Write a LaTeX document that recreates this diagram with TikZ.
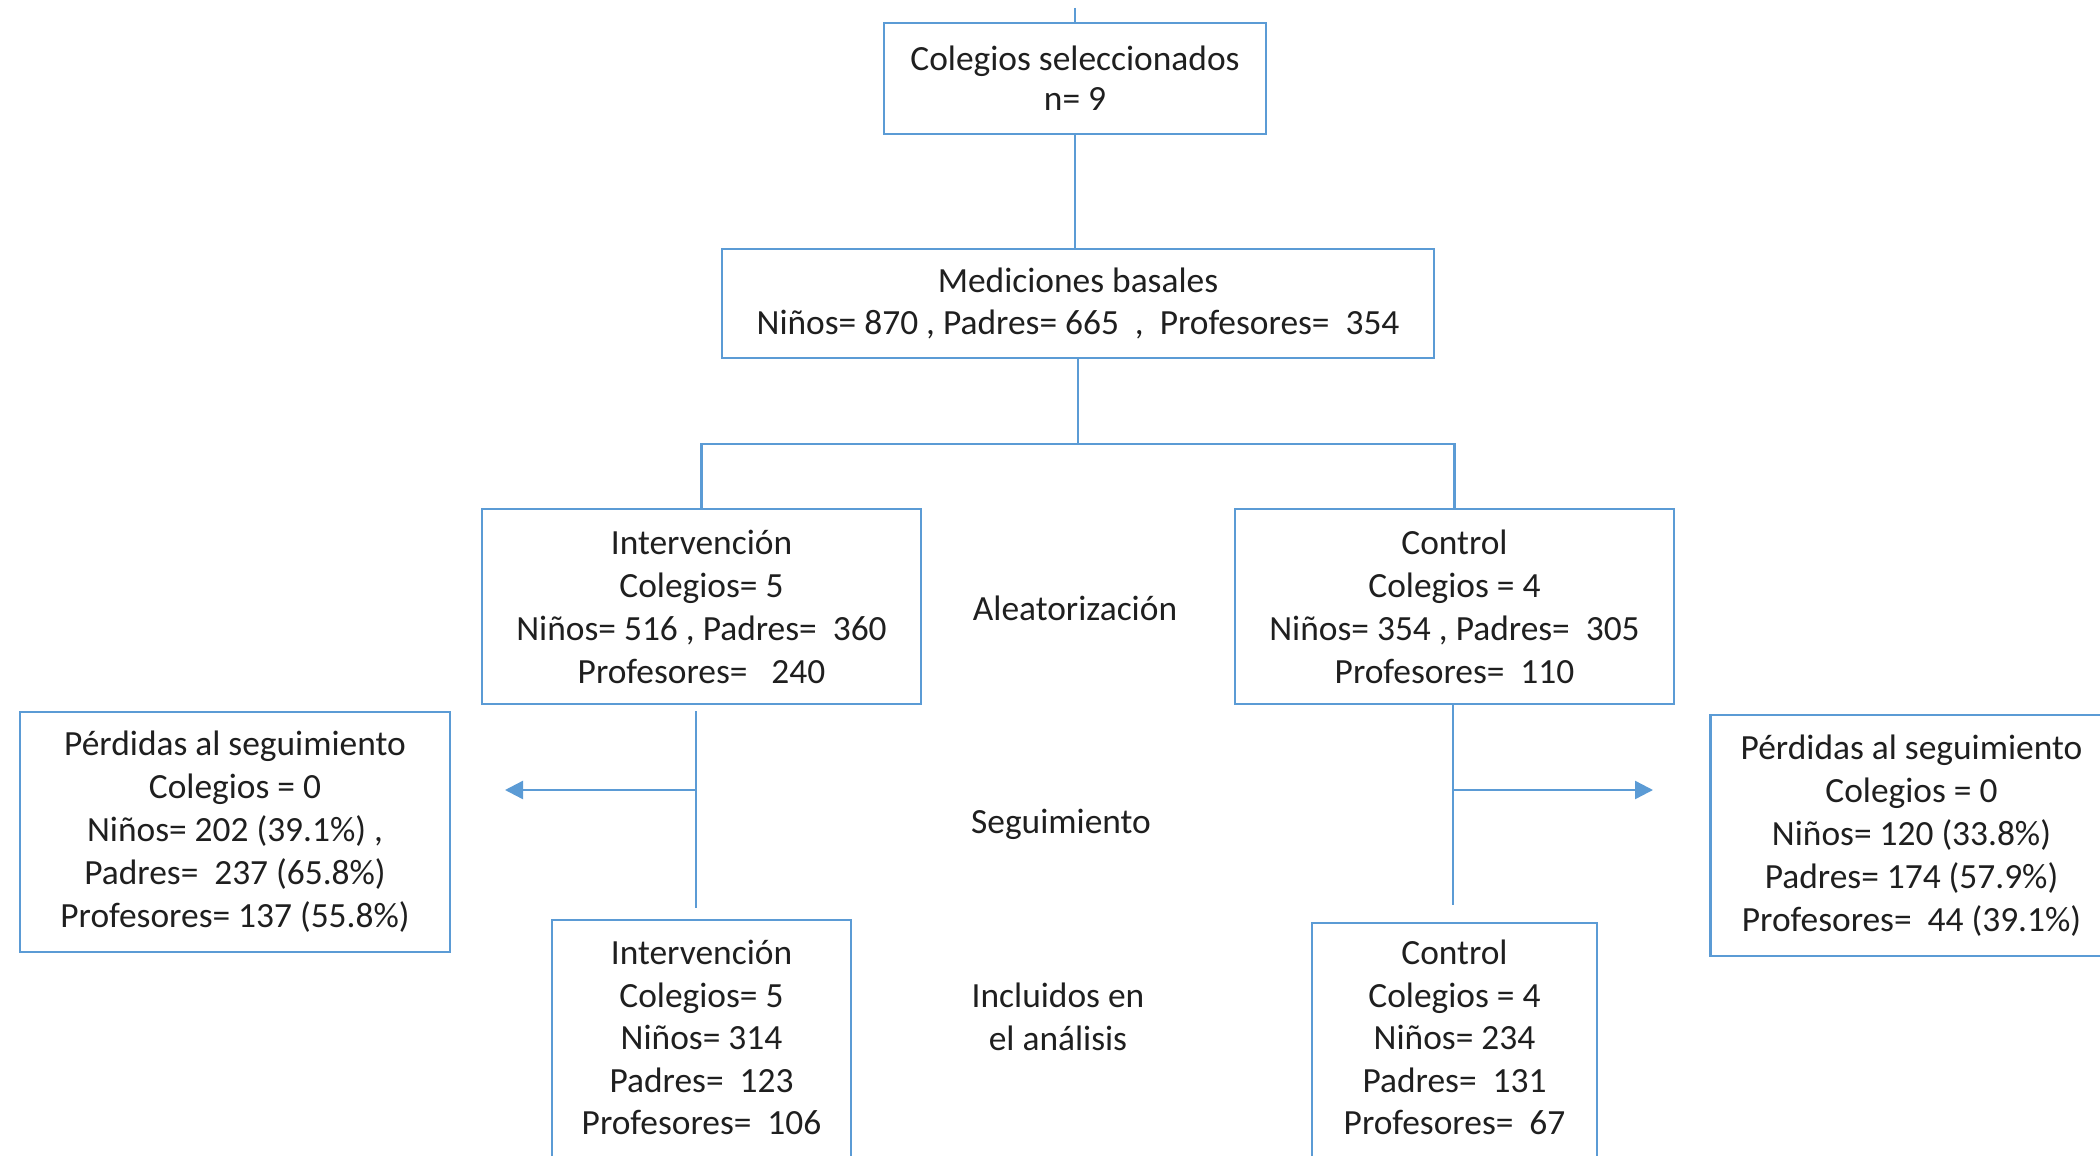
\documentclass[tikz,border=0pt]{standalone}
\usepackage{fontspec}
\setmainfont{Carlito}
\usetikzlibrary{arrows.meta}
\definecolor{lineblue}{HTML}{5B9BD5}
\definecolor{txt}{HTML}{1F1F1F}
\begin{document}
\begin{tikzpicture}[x=0.5pt,y=-0.5pt,
  box/.style={draw=lineblue, line width=1.2pt, fill=white, inner sep=0pt, align=center,
    font=\fontsize{17.7}{21.5}\selectfont, text=txt},
  lbl/.style={inner sep=0pt, align=center, font=\fontsize{17.7}{21.5}\selectfont, text=txt},
  conn/.style={draw=lineblue, line width=1.2pt},
  arr/.style={conn, -{Triangle[length=9pt,width=9pt]}}]
\useasboundingbox (0,0) rectangle (2100,1156);
\fill[white] (0,0) rectangle (2100,1156);

\node[box, minimum width=191pt, minimum height=55.5pt, font=\fontsize{17.7}{20.2}\selectfont] (top) at (1075,78.5)
  {Colegios seleccionados\\n= 9};
\node[box, minimum width=356pt, minimum height=54.5pt, font=\fontsize{17.7}{20.8}\selectfont] (med) at (1078,303.5)
  {Mediciones basales\\Niños= 870 , Padres= 665~ ,~ Profesores=~ 354};
\node[box, minimum width=219.5pt, minimum height=97.5pt] (int) at (701.5,606.5)
  {Intervención\\Colegios= 5\\Niños= 516 , Padres=~ 360\\Profesores=~~ 240};
\node[box, minimum width=219.5pt, minimum height=97.5pt] (ctl) at (1454.5,606.5)
  {Control\\Colegios = 4\\Niños= 354 , Padres=~ 305\\Profesores=~ 110};
\node[box, minimum width=215pt, minimum height=120pt] (lostL) at (235,832)
  {Pérdidas al seguimiento\\Colegios = 0\\Niños= 202 (39.1\%) ,\\Padres=~ 237 (65.8\%)\\Profesores= 137 (55.8\%)};
\node[box, minimum width=201pt, minimum height=120.5pt] (lostR) at (1911.5,835.5)
  {Pérdidas al seguimiento\\Colegios = 0\\Niños= 120 (33.8\%)\\Padres= 174 (57.9\%)\\Profesores=~ 44 (39.1\%)};
\node[box, minimum width=149.5pt, anchor=north, inner ysep=10pt, font=\fontsize{17.7}{21.25}\selectfont] (intB) at (701.5,919)
  {Intervención\\Colegios= 5\\Niños= 314\\Padres=~ 123\\Profesores=~ 106\\[6pt]};
\node[box, minimum width=142.5pt, anchor=north, inner ysep=8.5pt, font=\fontsize{17.7}{21.25}\selectfont] (ctlB) at (1454.5,922)
  {Control\\Colegios = 4\\Niños= 234\\Padres=~ 131\\Profesores=~ 67\\[6pt]};

\node[lbl] (alea) at (1075,608) {Aleatorización};
\node[lbl] (seg) at (1061,824) {Seguimiento};
\node[lbl] (incl) at (1058,1017) {Incluidos en\\el análisis};

\coordinate (stub) at (1075,8);
\coordinate (jl) at (701.5,444);
\coordinate (jr) at (1454.5,444);
\coordinate (lmid) at (696,790);
\coordinate (ltip) at (505,790);
\coordinate (rmid) at (1453,790);
\coordinate (rtip) at (1653,790);

\draw[conn] (stub) -- (top.north);
\draw[conn] (top.south) -- (top.south |- med.north);
\draw[conn] (med.south) -- (med.south |- jl);
\draw[conn] (int.north) -- (jl) -- (jr) -- (ctl.north);
\draw[conn, shorten <=3pt, shorten >=5.5pt] ([xshift=-2.75pt]int.south) -- ([xshift=-2.75pt]intB.north);
\draw[conn, shorten >=8.5pt] ([xshift=-0.75pt]ctl.south) -- ([xshift=-0.75pt]ctlB.north);
\draw[arr] (lmid) -- (ltip);
\draw[arr] (rmid) -- (rtip);
\end{tikzpicture}
\end{document}
